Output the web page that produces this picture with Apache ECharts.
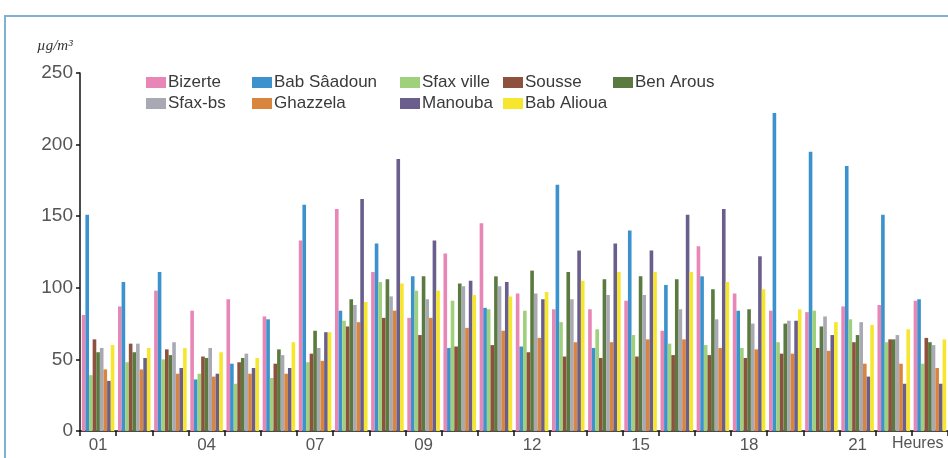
<!DOCTYPE html>
<html>
<head>
<meta charset="utf-8">
<script src="https://cdn.jsdelivr.net/npm/echarts@6/dist/echarts.min.js"></script>
<style>
  html, body { margin: 0; padding: 0; background: #fff; }
  #chart { width: 948px; height: 458px; }
</style>
</head>
<body>
<div id="chart"></div>
<script>
// heures (labels shown as in the source figure)
const hourLabels = ['01', '', '', '04', '', '', '07', '', '', '09', '', '', '12', '', '', '15', '', '', '18', '', '', '21', '', '']

const seriesNames = ['Bizerte', 'Bab Sâadoun', 'Sfax ville', 'Sousse', 'Ben Arous', 'Sfax-bs', 'Ghazzela', 'Manouba', 'Bab Alioua']
const seriesColors = ['#e886b6', '#3b92cc', '#9fd07c', '#8e513d', '#5b7a3f', '#a9a9b3', '#d9853e', '#6a5e8c', '#f6e62e']

// µg/m3 par heure
const bizerte = [81, 87, 98, 84, 92, 80, 133, 155, 111, 79, 124, 145, 96, 85, 85, 91, 70, 129, 96, 84, 83, 87, 88, 91]
const babSaadoun = [151, 104, 111, 36, 47, 78, 158, 84, 131, 108, 58, 86, 59, 172, 58, 140, 102, 108, 84, 222, 195, 185, 151, 92]
const sfaxVille = [39, 48, 50, 40, 33, 37, 48, 77, 104, 98, 91, 85, 84, 76, 71, 67, 61, 60, 58, 62, 84, 78, 62, 47]
const sousse = [64, 61, 57, 52, 48, 47, 54, 73, 79, 67, 59, 60, 55, 52, 51, 52, 53, 53, 51, 54, 58, 62, 64, 65]
const benArous = [55, 55, 53, 51, 51, 57, 70, 92, 106, 108, 103, 108, 112, 111, 106, 108, 106, 99, 85, 75, 73, 67, 64, 62]
const sfaxBs = [58, 61, 62, 58, 54, 53, 58, 88, 94, 92, 101, 101, 96, 92, 95, 95, 85, 78, 75, 77, 80, 76, 67, 60]
const ghazzela = [43, 43, 40, 38, 40, 40, 49, 76, 84, 79, 72, 70, 65, 62, 62, 64, 64, 58, 57, 54, 56, 47, 47, 44]
const manouba = [35, 51, 44, 40, 44, 44, 69, 162, 190, 133, 105, 104, 92, 126, 131, 126, 151, 155, 122, 77, 67, 38, 33, 33]
const babAlioua = [60, 58, 58, 55, 51, 62, 69, 90, 103, 98, 95, 94, 97, 105, 111, 111, 111, 104, 99, 85, 76, 74, 71, 64]

const seriesValues = [bizerte, babSaadoun, sfaxVille, sousse, benArous, sfaxBs, ghazzela, manouba, babAlioua]

// legend slots (left, top) - two rows, aligned columns
const legendSlots = [
  [146, 74], [252, 74], [400, 74], [503, 74], [613, 74],
  [146, 95], [252, 95], [400, 95], [503, 95]
]

const chart = echarts.init(document.getElementById('chart'))

const option = {
  animation: false,
  textStyle: { fontFamily: 'Liberation Sans, Arial, sans-serif' },
  legend: seriesNames.map((name, i) => ({
    data: [name],
    left: legendSlots[i][0],
    top: legendSlots[i][1],
    padding: 0,
    itemWidth: 20,
    itemHeight: 11,
    icon: 'rect',
    selectedMode: false,
    textStyle: { fontSize: 17, color: '#3a3a3a', padding: [0, 0, 0, -3] }
  })),
  graphic: [
    {
      type: 'rect',
      shape: { x: 5, y: 16, width: 980, height: 480 },
      style: { fill: 'none', stroke: '#7fb2d2', lineWidth: 2 },
      silent: true
    },
    {
      type: 'text',
      left: 37,
      top: 39,
      style: { text: 'µg/m³', font: 'italic 15px "Liberation Serif", serif', fill: '#333' }
    },
    {
      type: 'text',
      left: 892,
      top: 436,
      style: { text: 'Heures', font: '16px "Liberation Sans", sans-serif', fill: '#555' }
    }
  ],
  grid: { left: 80, right: 0, top: 73, bottom: 27 },
  xAxis: {
    type: 'category',
    data: hourLabels,
    axisLine: { lineStyle: { color: '#111', width: 1.5 } },
    axisTick: { show: true, length: 5, lineStyle: { color: '#111', width: 1.5 } },
    axisLabel: { interval: 0, fontSize: 17, color: '#555', margin: 6 },
    splitLine: { show: false }
  },
  yAxis: {
    type: 'value',
    min: 0,
    max: 250,
    interval: 50,
    axisLine: { show: true, lineStyle: { color: '#111', width: 1.5 } },
    axisTick: { show: true, length: 4, lineStyle: { color: '#111', width: 1.5 } },
    axisLabel: { fontSize: 19, color: '#555', margin: 7 },
    splitLine: { show: false }
  },
  series: seriesNames.map((name, i) => ({
    name,
    type: 'bar',
    data: seriesValues[i],
    barGap: '0%',
    barCategoryGap: '10%',
    itemStyle: { color: seriesColors[i] }
  }))
}

chart.setOption(option)
</script>
</body>
</html>
